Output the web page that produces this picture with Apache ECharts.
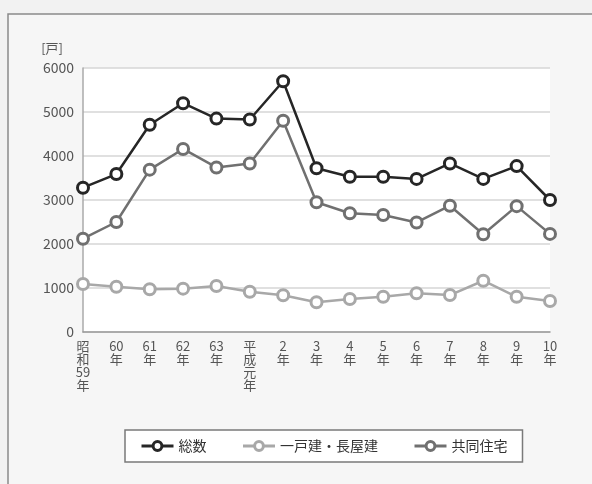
<!DOCTYPE html>
<html>
<head>
<meta charset="utf-8">
<script src="https://cdn.jsdelivr.net/npm/echarts@6/dist/echarts.min.js"></script>
<style>
  html, body { margin: 0; padding: 0; background: #f2f2f2; }
  #chart { width: 592px; height: 484px; }
</style>
</head>
<body>
<div id="chart"></div>
<script>
// 年次（縦書きで表示）
const years = ['昭和59年', '60年', '61年', '62年', '63年', '平成元年', '2年', '3年', '4年', '5年', '6年', '7年', '8年', '9年', '10年'];
const yearLabels = ['昭\n和\n59\n年', '60\n年', '61\n年', '62\n年', '63\n年', '平\n成\n元\n年', '2\n年', '3\n年', '4\n年', '5\n年', '6\n年', '7\n年', '8\n年', '9\n年', '10\n年'];

// 着工戸数
const totalUnits = [3280, 3590, 4710, 5200, 4850, 4830, 5700, 3720, 3530, 3530, 3480, 3830, 3480, 3770, 3000];
const detachedUnits = [1090, 1030, 970, 985, 1045, 915, 835, 675, 750, 800, 880, 840, 1165, 800, 705];
const apartmentUnits = [2120, 2500, 3690, 4160, 3740, 3830, 4800, 2950, 2700, 2660, 2490, 2870, 2220, 2860, 2230];

const seriesNames = ['総数', '一戸建・長屋建', '共同住宅'];
const seriesColors = ['#262626', '#a8a8a8', '#707070'];
const yTicks = [0, 1000, 2000, 3000, 4000, 5000, 6000];

const font = '"Noto Sans CJK JP", "Noto Sans", sans-serif';

function lineSeries(name, data, color, z) {
  return {
    name: name,
    type: 'line',
    data: data,
    z: z,
    symbol: 'circle',
    symbolSize: 11,
    showAllSymbol: true,
    lineStyle: { color: color, width: 2.5 },
    itemStyle: { color: '#ffffff', borderColor: color, borderWidth: 3 },
    emphasis: { disabled: true },
    animation: false
  };
}

const chart = echarts.init(document.getElementById('chart'), null, { renderer: 'canvas' });
chart.setOption({
  backgroundColor: '#f2f2f2',
  animation: false,
  textStyle: { fontFamily: font },
  graphic: [
    {
      type: 'rect',
      shape: { x: 8, y: 14, width: 600, height: 480 },
      style: { fill: '#f6f6f6', stroke: '#8a8a8a', lineWidth: 1.5 },
      z: -10
    }
  ],
  grid: {
    left: 83, right: 42, top: 68, bottom: 152,
    show: true, backgroundColor: '#ffffff', borderWidth: 0
  },
  legend: {
    left: 125, top: 430,
    padding: [9, 15, 9, 15],
    backgroundColor: '#ffffff',
    borderColor: '#7a7a7a',
    borderWidth: 1.5,
    itemGap: 35,
    itemWidth: 32,
    itemHeight: 11,
    data: seriesNames.map(function (n, i) {
      return {
        name: n,
        itemStyle: { color: '#ffffff', borderColor: seriesColors[i], borderWidth: 3 },
        lineStyle: { color: seriesColors[i], width: 3 }
      };
    }),
    textStyle: { color: '#333', fontSize: 14, fontFamily: font }
  },
  xAxis: {
    type: 'category',
    data: years,
    boundaryGap: false,
    axisLine: { lineStyle: { color: '#999', width: 1.5 } },
    axisTick: { show: false },
    axisLabel: {
      interval: 0,
      color: '#555',
      fontSize: 13,
      lineHeight: 13,
      margin: 8,
      verticalAlign: 'top',
      formatter: function (v, i) { return yearLabels[i]; }
    },
    splitLine: { show: false }
  },
  yAxis: {
    type: 'value',
    min: 0, max: 6000, interval: 1000,
    name: '[戸]',
    nameLocation: 'end',
    nameGap: 13,
    nameTextStyle: { color: '#555', fontSize: 13, align: 'right', padding: [0, 20, 0, 0] },
    axisLine: { show: true, lineStyle: { color: '#aaa', width: 1.5 } },
    axisTick: { show: false },
    axisLabel: {
      color: '#555', fontSize: 14, margin: 9,
      formatter: function (v) { return yTicks.indexOf(v) >= 0 ? String(v) : ''; }
    },
    splitLine: { lineStyle: { color: '#d6d6d6', width: 1.5 } }
  },
  series: [
    lineSeries(seriesNames[0], totalUnits, seriesColors[0], 5),
    lineSeries(seriesNames[1], detachedUnits, seriesColors[1], 3),
    lineSeries(seriesNames[2], apartmentUnits, seriesColors[2], 4)
  ]
});
</script>
</body>
</html>
